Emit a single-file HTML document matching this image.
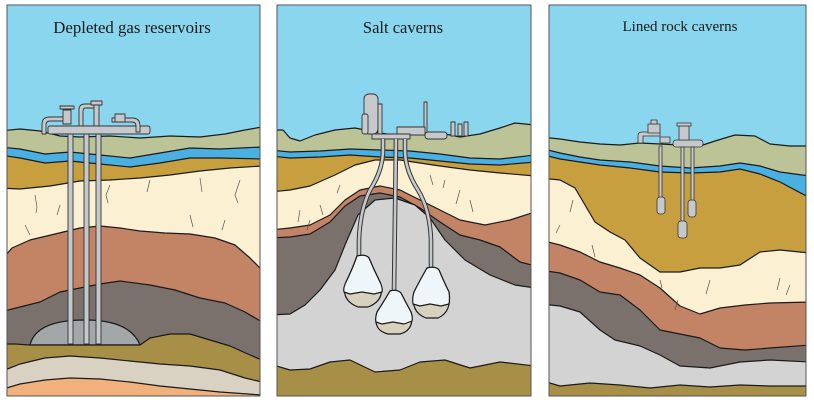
<!DOCTYPE html>
<html><head><meta charset="utf-8"><style>
html,body{margin:0;padding:0;background:#fff;width:814px;height:400px;overflow:hidden}
svg{display:block}
text{font-family:"Liberation Serif",serif;fill:#1a1a1a}
</style></head><body>
<svg width="814" height="400" viewBox="0 0 814 400" xmlns="http://www.w3.org/2000/svg">
<defs>
<clipPath id="c1"><rect x="7" y="5" width="253" height="391"/></clipPath>
<clipPath id="c2"><rect x="277" y="5" width="254" height="391"/></clipPath>
<clipPath id="c3"><rect x="549" y="5" width="257" height="391"/></clipPath>
</defs>
<g stroke="#1a1a1a" stroke-width="1.2" stroke-linejoin="round">

<!-- PANEL 1 -->
<g clip-path="url(#c1)">
<rect x="0" y="0" width="270" height="400" fill="#8ad6ee" stroke="none"/>
<path d="M0,131 L20,129 L40,131 L60,136 L80,137 L110,136 L140,138 L170,136 L200,137 L225,134 L245,130 L262,127 L262,400 L0,400Z" fill="#bcc497"/>
<path d="M0,147 L20,149 L45,154 L70,152 L100,155 L130,158 L160,153 L190,148 L220,149 L262,147 L262,400 L0,400Z" fill="#4aafe1"/>
<path d="M0,155 L20,158 L45,163 L70,161 L100,164 L130,167 L160,163 L190,158 L220,158 L262,159 L262,400 L0,400Z" fill="#c89f3f"/>
<path d="M0,188 L20,189 L50,186 L80,181 L110,180 L140,178 L170,175 L200,171 L230,168 L262,166 L262,400 L0,400Z" fill="#fbf0d2"/>
<path d="M0,262 L12,248 L30,240 L55,234 L80,228 L100,226 L120,228 L140,231 L165,233 L190,234 L215,238 L235,245 L250,258 L262,270 L262,400 L0,400Z" fill="#c38466"/>
<path d="M0,312 L20,307 L40,302 L60,292 L80,288 L100,284 L120,281 L150,285 L175,290 L200,298 L225,303 L245,312 L262,322 L262,400 L0,400Z" fill="#7a706c"/>
<path d="M30,345 Q36,320 85,320 Q130,320 140,345Z" fill="#a3a7a9"/>
<path d="M0,344 L15,344 L30,345 L140,345 L150,338 L170,334 L190,334 L210,340 L230,346 L250,355 L262,360 L262,400 L0,400Z" fill="#a88f47"/>
<path d="M0,372 L20,364 L45,358 L70,356 L100,358 L130,361 L160,364 L190,366 L220,370 L245,378 L262,382 L262,400 L0,400Z" fill="#d9d1c2"/>
<path d="M0,390 L20,384 L45,380 L70,378 L100,379 L130,382 L160,386 L190,389 L220,392 L262,395 L262,400 L0,400Z" fill="#f1b17b"/>
<g fill="none" stroke="#555" stroke-width="0.7">
<path d="M35,195 l2,12 l-1,6"/><path d="M60,205 l-3,10"/><path d="M110,185 l-4,10 l2,8"/><path d="M150,180 l-3,12"/><path d="M200,178 l2,14"/><path d="M240,180 l-5,15 l3,8"/><path d="M25,225 l5,10"/><path d="M190,215 l3,12"/><path d="M225,220 l-3,10"/>
</g>
<g fill="#c6c9cb" stroke="#333" stroke-width="0.9">
<rect x="48" y="126" width="102" height="8" rx="2"/>
<path d="M42,134 L42,124 Q42,117 50,117 L70,117 L70,121 L50,121 Q46,121 46,125 L46,134Z"/>
<rect x="63" y="110" width="8" height="14"/><rect x="60" y="106" width="14" height="3"/>
<path d="M79,126 L79,110 Q79,104 85,104 L95,104 L95,108 L85,108 Q83,108 83,112 L83,126Z"/>
<rect x="94" y="104" width="5" height="22"/><rect x="91" y="101" width="11" height="4"/>
<path d="M112,118 L132,118 Q140,118 140,126 L140,132 L136,132 L136,126 Q136,122 132,122 L112,122Z"/>
<rect x="115" y="114" width="10" height="8"/>
<rect x="68" y="134" width="5" height="210"/>
<rect x="84" y="134" width="5" height="210"/>
<rect x="96" y="134" width="5" height="210"/>
</g>
</g>
<rect x="7" y="5" width="253" height="391" fill="none" stroke="#555" stroke-width="1"/>

<!-- PANEL 2 -->
<g clip-path="url(#c2)">
<rect x="270" y="0" width="270" height="400" fill="#8ad6ee" stroke="none"/>
<path d="M270,130 L283,130 L290,138 L300,141 L315,135 L335,130 L355,128 L380,133 L400,136 L420,134 L440,133 L460,137 L480,134 L500,128 L515,123 L535,125 L535,400 L270,400Z" fill="#bcc497"/>
<path d="M270,150 L290,152 L320,151 L350,149 L380,150 L410,151 L440,154 L470,158 L500,159 L535,155 L535,400 L270,400Z" fill="#4aafe1"/>
<path d="M270,156 L290,158 L320,157 L350,155 L380,157 L410,158 L440,161 L470,164 L500,165 L535,162 L535,400 L270,400Z" fill="#c89f3f"/>
<path d="M270,192 L290,190 L310,186 L335,175 L355,165 L375,160 L400,160 L420,163 L440,166 L470,170 L500,173 L535,176 L535,400 L270,400Z" fill="#fbf0d2"/>
<path d="M270,230 L290,228 L310,225 L330,215 L345,200 L360,190 L380,186 L400,190 L420,200 L440,210 L460,220 L485,225 L510,220 L535,212 L535,400 L270,400Z" fill="#c38466"/>
<path d="M270,238 L290,237 L310,234 L330,222 L345,206 L360,196 L380,193 L400,197 L420,208 L440,222 L460,235 L480,240 L500,247 L520,262 L535,266 L535,400 L270,400Z" fill="#7a706c"/>
<path d="M270,315 L290,314 L305,305 L320,290 L335,270 L345,245 L358,215 L375,200 L395,198 L415,205 L430,218 L445,240 L465,260 L490,275 L515,285 L535,288 L535,400 L270,400Z" fill="#d3d3d3"/>
<path d="M270,364 L290,370 L310,369 L330,362 L350,360 L375,372 L400,370 L420,362 L445,360 L470,368 L500,362 L535,366 L535,400 L270,400Z" fill="#a88f47"/>
<g fill="none" stroke="#555" stroke-width="0.7">
<path d="M300,210 l-2,12"/><path d="M320,205 l3,10"/><path d="M340,185 l-3,8"/><path d="M430,175 l3,10"/><path d="M445,180 l-2,8"/><path d="M460,190 l-4,14"/><path d="M470,200 l3,12"/><path d="M310,220 l-3,10"/>
</g>
<g fill="#c6c9cb" stroke="#333" stroke-width="0.9">
<rect x="364" y="94" width="14" height="40" rx="5"/>
<rect x="378" y="104" width="4" height="30"/>
<rect x="362" y="114" width="6" height="20" rx="2"/>
<rect x="424" y="102" width="3" height="32"/>
<rect x="397" y="127" width="28" height="8"/>
<rect x="425" y="132" width="22" height="7" rx="3"/>
<rect x="451" y="122" width="4" height="14"/><rect x="458" y="124" width="4" height="12"/><rect x="464" y="122" width="4" height="14"/>
<rect x="372" y="134" width="38" height="5"/>
</g>
<g fill="none" stroke="#333" stroke-width="4.6">
<path d="M383,139 L383,150 Q383,170 370,190 Q360,210 359,240 L359,258"/>
<path d="M396,139 L394,292"/>
<path d="M405,139 L405,150 Q405,170 418,190 Q430,210 431,240 L431,270"/>
</g>
<g fill="none" stroke="#c6c9cb" stroke-width="2.6">
<path d="M383,139 L383,150 Q383,170 370,190 Q360,210 359,240 L359,258"/>
<path d="M396,139 L394,292"/>
<path d="M405,139 L405,150 Q405,170 418,190 Q430,210 431,240 L431,270"/>
</g>
<g>
<path d="M357,256 Q366,254 369,258 Q374,270 380,282 Q386,300 368,307 L358,307 Q340,300 346,282 Q352,270 357,256Z" fill="#d9d1c0"/>
<path d="M357,256 Q366,254 369,258 Q374,270 380,282 Q383,288 382,292 L374,294 L362,292 L350,294 L344,292 Q343,288 346,282 Q352,270 357,256Z" fill="#eef6fa"/>
<path d="M390,291 Q397,289 401,293 Q406,303 411,312 Q415,330 400,334 L388,334 Q372,330 377,312 Q383,303 390,291Z" fill="#d9d1c0"/>
<path d="M390,291 Q397,289 401,293 Q406,303 411,312 Q413,318 412,321 L404,324 L393,322 L382,324 L376,322 Q375,318 377,312 Q383,303 390,291Z" fill="#eef6fa"/>
<path d="M427,268 Q436,266 439,270 Q444,282 449,292 Q452,312 438,318 L426,318 Q410,312 414,292 Q419,282 427,268Z" fill="#d9d1c0"/>
<path d="M427,268 Q436,266 439,270 Q444,282 449,292 Q450,298 449,304 L441,306 L430,304 L420,306 L413,304 Q412,298 414,292 Q419,282 427,268Z" fill="#eef6fa"/>
</g>
</g>
<rect x="277" y="5" width="254" height="391" fill="none" stroke="#555" stroke-width="1"/>

<!-- PANEL 3 -->
<g clip-path="url(#c3)">
<rect x="540" y="0" width="280" height="400" fill="#8ad6ee" stroke="none"/>
<path d="M540,137 L560,139 L580,142 L600,144 L620,145 L640,143 L660,144 L680,145 L700,146 L715,141 L735,135 L755,136 L770,144 L790,146 L810,146 L810,400 L540,400Z" fill="#bcc497"/>
<path d="M540,148 L560,153 L580,157 L600,160 L630,162 L660,166 L690,168 L720,166 L740,163 L760,166 L780,172 L810,176 L810,400 L540,400Z" fill="#4aafe1"/>
<path d="M540,154 L560,159 L580,162 L600,165 L630,168 L660,172 L690,173 L720,172 L740,169 L760,174 L780,182 L810,198 L810,400 L540,400Z" fill="#c89f3f"/>
<path d="M540,178 L560,180 L575,188 L585,205 L595,222 L610,232 L625,240 L640,258 L660,272 L680,272 L700,268 L720,268 L740,265 L760,252 L780,250 L810,253 L810,400 L540,400Z" fill="#fbf0d2"/>
<path d="M540,240 L560,245 L580,252 L600,262 L620,268 L640,275 L660,288 L680,306 L700,314 L720,308 L745,305 L770,303 L810,302 L810,400 L540,400Z" fill="#c38466"/>
<path d="M540,270 L560,273 L580,280 L600,292 L620,295 L640,310 L660,330 L680,334 L700,338 L720,348 L745,350 L770,348 L810,345 L810,400 L540,400Z" fill="#7a706c"/>
<path d="M540,304 L560,306 L580,312 L600,330 L615,340 L640,346 L660,355 L680,366 L710,368 L740,362 L770,360 L810,362 L810,400 L540,400Z" fill="#d3d3d3"/>
<path d="M540,380 L560,386 L590,383 L620,385 L650,388 L680,385 L710,387 L740,385 L770,386 L810,386 L810,400 L540,400Z" fill="#a88f47"/>
<g fill="none" stroke="#555" stroke-width="0.7">
<path d="M573,200 l-3,12"/><path d="M560,225 l-4,8"/><path d="M592,245 l3,12"/><path d="M660,280 l2,8"/><path d="M678,300 l-3,10"/><path d="M710,280 l-4,14"/><path d="M780,278 l-3,12"/><path d="M790,285 l-4,10"/>
</g>
<g fill="#c6c9cb" stroke="#333" stroke-width="0.8">
<path d="M638,143 L638,136 Q638,132 642,132 L660,132 L660,136 L643,136 L643,143Z"/>
<rect x="648" y="124" width="12" height="9"/><rect x="651" y="120" width="6" height="4"/>
<rect x="660" y="137" width="10" height="6"/>
<rect x="673" y="140" width="30" height="7" rx="3"/>
<rect x="679" y="126" width="10" height="14"/><rect x="677" y="123" width="14" height="3"/>
<rect x="659" y="146" width="3" height="53"/>
<rect x="681" y="147" width="3" height="76"/>
<rect x="691" y="147" width="3" height="55"/>
<rect x="657" y="197" width="8" height="17" rx="3"/>
<rect x="678" y="221" width="9" height="17" rx="3"/>
<rect x="688" y="200" width="8" height="17" rx="3"/>
</g>
</g>
<rect x="549" y="5" width="257" height="391" fill="none" stroke="#555" stroke-width="1"/>
</g>

<text x="132" y="33" font-size="16.8" text-anchor="middle">Depleted gas reservoirs</text>
<text x="403" y="33" font-size="16.5" text-anchor="middle">Salt caverns</text>
<text x="680" y="31" font-size="15" text-anchor="middle">Lined rock caverns</text>
</svg>
</body></html>
